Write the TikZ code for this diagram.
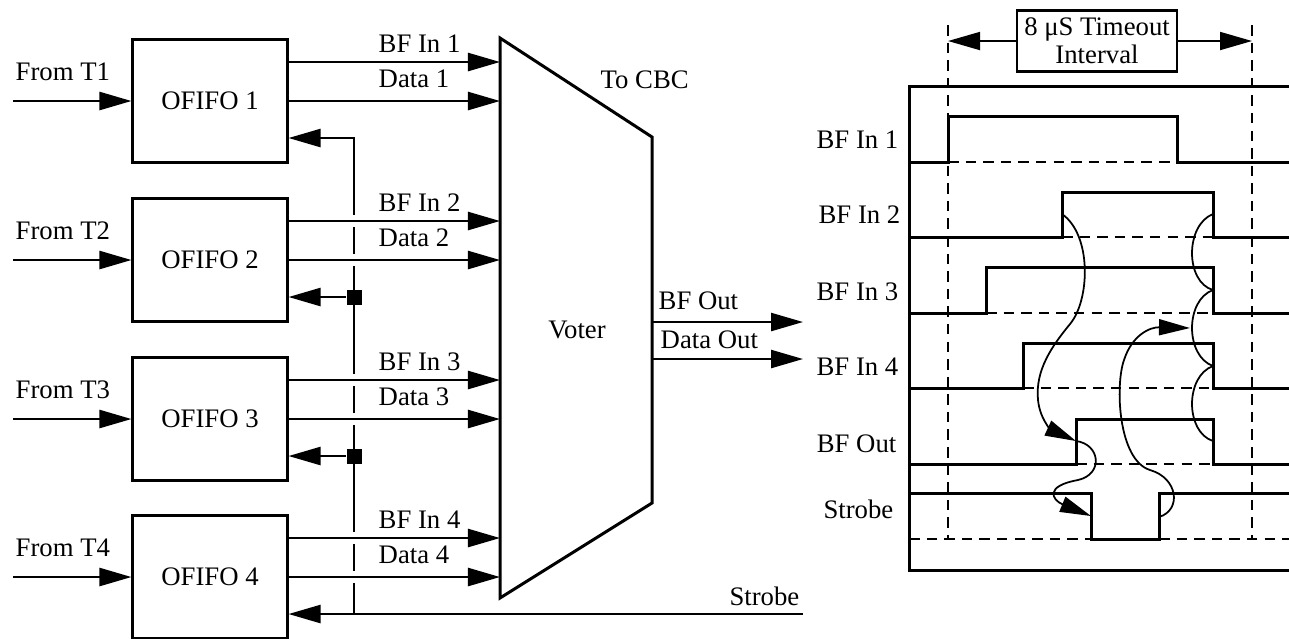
\documentclass[tikz,border=0pt]{standalone}
\usepackage{fontspec}
\setmainfont{Liberation Serif}
\usetikzlibrary{arrows.meta, positioning}

\begin{document}
\begin{tikzpicture}[x=0.01cm, y=-0.01cm, font=\fontsize{7.6}{8}\selectfont]
    % Define styles
    \tikzstyle{fifo} = [rectangle, draw, line width=0.85pt, minimum width=1.54cm, minimum height=1.22cm]
    \tikzstyle{sig} = [line width=0.7pt, -{Triangle[length=3.2mm, width=1.8mm]}]
    \tikzstyle{crossgap} = [preaction={draw=white, line width=3.5pt, -}]
    \tikzstyle{lbl} = [inner sep=0pt]
    \tikzstyle{junction} = [rectangle, fill, minimum size=1.5mm, inner sep=0pt]
    \tikzstyle{wave} = [line width=0.85pt]
    \tikzstyle{refline} = [line width=0.6pt, dash pattern=on 3pt off 2pt]
    \tikzstyle{cause} = [line width=0.5pt, -{Triangle[length=3.1mm, width=1.6mm]}]

    \useasboundingbox (0,0) rectangle (1289,638);

    % FIFOs and their inputs
    \foreach \i/\y in {1/101, 2/260, 3/419, 4/577} {
        \node[fifo] (f\i) at (210,\y) {OFIFO \i};
        \coordinate (t\i) at (13,\y);
        \node[lbl, anchor=base west] at (15,\y-21) {From T\i};
        \draw[sig] (t\i) -- (f\i);
    }

    % Strobe feedback
    \coordinate (strb) at (803,614);
    \coordinate (fb) at (354,614);
    \coordinate (fbtop) at (354,138);
    \node[lbl, anchor=base east] (strblbl) at (800,605) {Strobe};
    \draw[sig] (strb) -- (f4.east |- strb);
    \draw[sig] (fb) -- (fbtop) -- (f1.east |- fbtop);
    \node[junction] (j2) at (354,297) {};
    \node[junction] (j3) at (354,456) {};
    \draw[sig] (j2) -- (f2.east |- j2);
    \draw[sig] (j3) -- (f3.east |- j3);

    % Voter inputs
    \foreach \i/\y in {1/101, 2/260, 3/419, 4/577} {
        \coordinate (vb\i) at (500,\y-39);
        \coordinate (vd\i) at (500,\y);
        \draw[sig, crossgap] (f\i.east |- vb\i) -- (vb\i);
        \draw[sig, crossgap] (f\i.east) -- (vd\i);
        \node[lbl, anchor=base west] at (378,\y-49) {BF In \i};
        \node[lbl, anchor=base west] at (378,\y-14) {Data \i};
    }

    % Voter
    \coordinate (vtl) at (500,38);
    \coordinate (vtr) at (652,137);
    \coordinate (vbr) at (652,503);
    \coordinate (vbl) at (500,598);
    \draw[line width=0.85pt] (vtl) -- (vtr) -- (vbr) -- (vbl) -- cycle;
    \node (voter) at (577,330) {Voter};
    \node[lbl, anchor=base west] (cbc) at (600,88) {To CBC};

    % Voter outputs
    \coordinate (vo1) at (652,322);
    \coordinate (vo2) at (652,359);
    \coordinate (bfo) at (803,322);
    \coordinate (dto) at (803,359);
    \draw[sig] (vo1) -- (bfo);
    \draw[sig] (vo2) -- (dto);
    \node[lbl, anchor=base west] at (658,309) {BF Out};
    \node[lbl, anchor=base west] at (660,348) {Data Out};

    % Timing diagram
    \draw[wave] (1289,86) -- (909,86) -- (909,570) -- (1289,570);
    \node[draw, line width=0.6pt, minimum width=1.6cm, minimum height=0.61cm, inner sep=1pt, align=center, font=\fontsize{7.6}{6.5}\selectfont] (tmo) at (1097,41) {8 μS Timeout\\Interval};
    \coordinate (tl) at (948,41);
    \coordinate (tr) at (1252,41);
    \draw[sig, line width=0.5pt] (tmo.west) -- (tl);
    \draw[sig, line width=0.5pt] (tmo.east) -- (tr);
    \draw[refline] (948,25) -- (948,539);
    \draw[refline] (1252,25) -- (1252,539);

    \node[lbl, anchor=base east] at (899,148) {BF In 1};
    \draw[wave] (909,162) -- (948,162) -- (948,116) -- (1177,116) -- (1177,162) -- (1289,162);
    \draw[refline] (948,162) -- (1177,162);

    \node[lbl, anchor=base east] at (901,223) {BF In 2};
    \draw[wave] (909,237) -- (1062,237) -- (1062,192) -- (1213,192) -- (1213,237) -- (1289,237);
    \draw[refline] (1062,237) -- (1213,237);

    \node[lbl, anchor=base east] at (899,300) {BF In 3};
    \draw[wave] (909,313) -- (986,313) -- (986,267) -- (1213,267) -- (1213,313) -- (1289,313);
    \draw[refline] (986,313) -- (1213,313);

    \node[lbl, anchor=base east] at (899,375) {BF In 4};
    \draw[wave] (909,388) -- (1023,388) -- (1023,343) -- (1213,343) -- (1213,388) -- (1289,388);
    \draw[refline] (1023,388) -- (1213,388);

    \node[lbl, anchor=base east] at (897,452) {BF Out};
    \draw[wave] (909,464) -- (1076,464) -- (1076,419) -- (1213,419) -- (1213,464) -- (1289,464);
    \draw[refline] (1076,464) -- (1213,464);

    \node[lbl, anchor=base east] at (894,518) {Strobe};
    \draw[wave] (909,493) -- (1091,493) -- (1091,539) -- (1159,539) -- (1159,493) -- (1289,493);
    \draw[refline] (909,539) -- (1091,539);
    \draw[refline] (1159,539) -- (1289,539);

    % Cause and effect
    \draw[cause] (1062,214) .. controls (1092,235) and (1090,300) .. (1070,324) .. controls (1052,346) and (1035,370) .. (1038,400) .. controls (1040,420) and (1052,430) .. (1076,441);
    \draw[cause] (1076,441) .. controls (1100,444) and (1104,474) .. (1078,480) .. controls (1044,486) and (1052,500) .. (1091,516);
    \draw[cause] (1159,517) .. controls (1182,510) and (1178,478) .. (1150,470) .. controls (1118,460) and (1115,385) .. (1124,360) .. controls (1132,335) and (1150,327) .. (1190,328);
    \draw[line width=0.5pt] (1213,214) .. controls (1185,225) and (1185,282) .. (1213,290) .. controls (1185,300) and (1185,356) .. (1213,366) .. controls (1185,376) and (1185,432) .. (1213,441);
\end{tikzpicture}
\end{document}
